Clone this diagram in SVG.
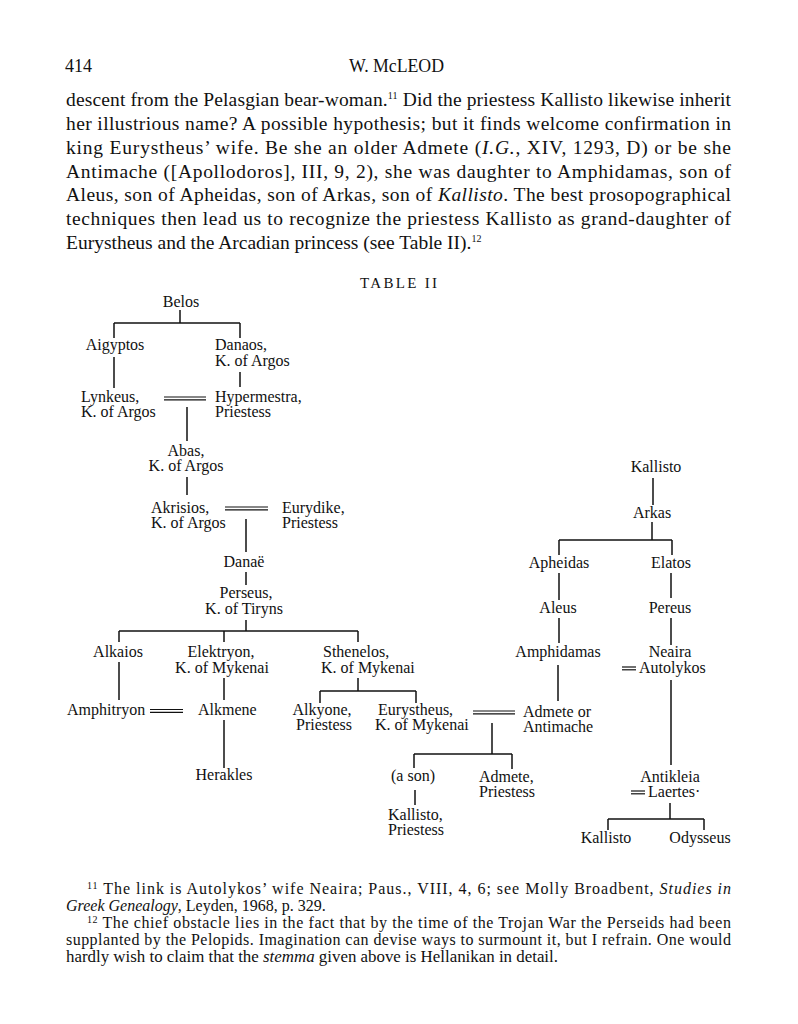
<svg xmlns="http://www.w3.org/2000/svg" width="798" height="1024" viewBox="0 0 798 1024">
<style>
.b{font-family:"Liberation Serif","Times New Roman",serif;font-size:19.5px;fill:#111}
.h{font-family:"Liberation Serif","Times New Roman",serif;font-size:18px;fill:#111}
.f{font-family:"Liberation Serif","Times New Roman",serif;font-size:16px;fill:#111}
.t{font-family:"Liberation Serif","Times New Roman",serif;font-size:16px;fill:#111}
.m{text-anchor:middle}
.i{font-style:italic}
.sup{font-size:10px}
.ln line{stroke:#111;stroke-width:1.5;fill:none}
.eq line{stroke:#111;stroke-width:1.2}
</style>
<rect width="798" height="1024" fill="#fff"/>
<g id="header">
<text class="h" x="65" y="72">414</text>
<text class="h" x="349" y="72" textLength="95" lengthAdjust="spacingAndGlyphs">W. McLEOD</text>
</g>
<g id="body">
<text class="b" x="66" y="106" textLength="665" lengthAdjust="spacing">descent from the Pelasgian bear-woman.<tspan class="sup" dy="-7">11</tspan><tspan dy="7"> Did the priestess Kallisto likewise inherit</tspan></text>
<text class="b" x="66" y="130" textLength="665" lengthAdjust="spacing">her illustrious name? A possible hypothesis; but it finds welcome confirmation in</text>
<text class="b" x="66" y="154" textLength="665" lengthAdjust="spacing">king Eurystheus’ wife. Be she an older Admete (<tspan class="i">I.G.</tspan>, XIV, 1293, D) or be she</text>
<text class="b" x="66" y="178" textLength="665" lengthAdjust="spacing">Antimache ([Apollodoros], III, 9, 2), she was daughter to Amphidamas, son of</text>
<text class="b" x="66" y="201" textLength="665" lengthAdjust="spacing">Aleus, son of Apheidas, son of Arkas, son of <tspan class="i">Kallisto</tspan>. The best prosopographical</text>
<text class="b" x="66" y="225" textLength="665" lengthAdjust="spacing">techniques then lead us to recognize the priestess Kallisto as grand-daughter of</text>
<text class="b" x="66" y="249">Eurystheus and the Arcadian princess (see Table II).<tspan class="sup" dy="-7">12</tspan></text>
</g>
<text id="title" class="f" x="360" y="288" style="font-size:15px" textLength="77" lengthAdjust="spacing">TABLE II</text>

<g id="connectors" class="ln">
<line x1="180" y1="310" x2="180" y2="323"/>
<line x1="114" y1="323" x2="240" y2="323"/>
<line x1="114" y1="323" x2="114" y2="338"/>
<line x1="240" y1="323" x2="240" y2="338"/>
<line x1="114" y1="357" x2="114" y2="388"/>
<line x1="240" y1="372" x2="240" y2="387"/>
<line x1="187" y1="407" x2="187" y2="441"/>
<line x1="187" y1="477" x2="187" y2="495"/>
<line x1="246" y1="519" x2="246" y2="552"/>
<line x1="246" y1="572" x2="246" y2="585"/>
<line x1="246" y1="620" x2="246" y2="631"/>
<line x1="119" y1="631" x2="358" y2="631"/>
<line x1="119" y1="631" x2="119" y2="642"/>
<line x1="224" y1="631" x2="224" y2="642"/>
<line x1="358" y1="631" x2="358" y2="642"/>
<line x1="119" y1="662" x2="119" y2="700"/>
<line x1="224" y1="678" x2="224" y2="700"/>
<line x1="358" y1="678" x2="358" y2="691"/>
<line x1="320" y1="691" x2="416" y2="691"/>
<line x1="320" y1="691" x2="320" y2="703"/>
<line x1="416" y1="691" x2="416" y2="703"/>
<line x1="224" y1="720" x2="224" y2="768"/>
<line x1="492" y1="723" x2="492" y2="754"/>
<line x1="414" y1="754" x2="512" y2="754"/>
<line x1="414" y1="754" x2="414" y2="768"/>
<line x1="512" y1="754" x2="512" y2="769"/>
<line x1="415" y1="790" x2="415" y2="805"/>
<line x1="558" y1="665" x2="558" y2="701"/>
<line x1="653" y1="478" x2="653" y2="505"/>
<line x1="652" y1="522" x2="652" y2="540"/>
<line x1="559" y1="540" x2="672" y2="540"/>
<line x1="559" y1="540" x2="559" y2="555"/>
<line x1="672" y1="540" x2="672" y2="555"/>
<line x1="559" y1="573" x2="559" y2="600"/>
<line x1="671" y1="573" x2="671" y2="598"/>
<line x1="559" y1="618" x2="559" y2="643"/>
<line x1="671" y1="618" x2="671" y2="645"/>
<line x1="671" y1="680" x2="671" y2="765"/>
<line x1="670" y1="803" x2="670" y2="819"/>
<line x1="608" y1="819" x2="704" y2="819"/>
<line x1="608" y1="819" x2="608" y2="830"/>
<line x1="704" y1="819" x2="704" y2="830"/>
<g class="eq">
<line x1="164" y1="397" x2="206" y2="397"/><line x1="164" y1="399.8" x2="206" y2="399.8"/>
<line x1="225" y1="507" x2="268" y2="507"/><line x1="225" y1="509.8" x2="268" y2="509.8"/>
<line x1="150" y1="709.5" x2="183" y2="709.5"/><line x1="150" y1="712.3" x2="183" y2="712.3"/>
<line x1="473" y1="711" x2="515" y2="711"/><line x1="473" y1="713.8" x2="515" y2="713.8"/>
<line x1="622" y1="667" x2="636" y2="667"/><line x1="622" y1="669.8" x2="636" y2="669.8"/>
<line x1="631" y1="791" x2="645" y2="791"/><line x1="631" y1="793.8" x2="645" y2="793.8"/>
</g>
</g>

<g id="belos"><text class="t m" x="181" y="307">Belos</text></g>
<g id="aigyptos"><text class="t m" x="115" y="350">Aigyptos</text></g>
<g id="danaos"><text class="t" x="215" y="350">Danaos,</text><text class="t" x="215" y="366">K. of Argos</text></g>
<g id="lynkeus"><text class="t" x="81" y="402">Lynkeus,</text><text class="t" x="81" y="417">K. of Argos</text></g>
<g id="hypermestra"><text class="t" x="215" y="402">Hypermestra,</text><text class="t" x="215" y="417">Priestess</text></g>
<g id="abas"><text class="t m" x="186" y="456">Abas,</text><text class="t m" x="186" y="471">K. of Argos</text></g>
<g id="akrisios"><text class="t" x="151" y="513">Akrisios,</text><text class="t" x="151" y="528">K. of Argos</text></g>
<g id="eurydike"><text class="t" x="282" y="513">Eurydike,</text><text class="t" x="282" y="528">Priestess</text></g>
<g id="danae"><text class="t m" x="244" y="567">Danaë</text></g>
<g id="perseus"><text class="t m" x="246" y="598">Perseus,</text><text class="t m" x="244" y="614">K. of Tiryns</text></g>
<g id="alkaios"><text class="t m" x="118" y="657">Alkaios</text></g>
<g id="elektryon"><text class="t m" x="221" y="657">Elektryon,</text><text class="t m" x="222" y="673">K. of Mykenai</text></g>
<g id="sthenelos"><text class="t" x="323" y="657">Sthenelos,</text><text class="t" x="321" y="673">K. of Mykenai</text></g>
<g id="amphitryon"><text class="t" x="67" y="715">Amphitryon</text></g>
<g id="alkmene"><text class="t" x="198" y="715">Alkmene</text></g>
<g id="herakles"><text class="t m" x="224" y="780">Herakles</text></g>
<g id="alkyone"><text class="t m" x="322" y="715">Alkyone,</text><text class="t m" x="324" y="730">Priestess</text></g>
<g id="eurystheus"><text class="t" x="378" y="715">Eurystheus,</text><text class="t" x="375" y="730">K. of Mykenai</text></g>
<g id="admete-antimache"><text class="t" x="523" y="717">Admete or</text><text class="t" x="523" y="732">Antimache</text></g>
<g id="ason"><text class="t m" x="413" y="781">(a son)</text></g>
<g id="kallisto-priestess"><text class="t" x="388" y="820">Kallisto,</text><text class="t" x="388" y="835">Priestess</text></g>
<g id="admete-priestess"><text class="t" x="479" y="782">Admete,</text><text class="t" x="479" y="797">Priestess</text></g>
<g id="kallisto"><text class="t m" x="656" y="472">Kallisto</text></g>
<g id="arkas"><text class="t m" x="652" y="518">Arkas</text></g>
<g id="apheidas"><text class="t m" x="559" y="568">Apheidas</text></g>
<g id="elatos"><text class="t m" x="671" y="568">Elatos</text></g>
<g id="aleus"><text class="t m" x="558" y="613">Aleus</text></g>
<g id="pereus"><text class="t m" x="670" y="613">Pereus</text></g>
<g id="amphidamas"><text class="t m" x="558" y="657">Amphidamas</text></g>
<g id="neaira"><text class="t m" x="670" y="657">Neaira</text><text class="t" x="639" y="673">Autolykos</text></g>
<g id="antikleia"><text class="t m" x="670" y="782">Antikleia</text><text class="t" x="648" y="797">Laertes·</text></g>
<g id="kallisto2"><text class="t m" x="606" y="843">Kallisto</text></g>
<g id="odysseus"><text class="t m" x="700" y="843">Odysseus</text></g>

<g id="footnotes">
<text class="f" x="87" y="894" textLength="644" lengthAdjust="spacing"><tspan class="sup" dy="-5">11</tspan><tspan dy="5"> The link is Autolykos’ wife Neaira; Paus., VIII, 4, 6; see Molly Broadbent, </tspan><tspan class="i">Studies in</tspan></text>
<text class="f" x="66" y="911"><tspan class="i">Greek Genealogy</tspan>, Leyden, 1968, p. 329.</text>
<text class="f" x="87" y="928" textLength="644" lengthAdjust="spacing"><tspan class="sup" dy="-5">12</tspan><tspan dy="5"> The chief obstacle lies in the fact that by the time of the Trojan War the Perseids had been</tspan></text>
<text class="f" x="66" y="945" textLength="665" lengthAdjust="spacing">supplanted by the Pelopids. Imagination can devise ways to surmount it, but I refrain. One would</text>
<text class="f" x="66" y="962" textLength="492" lengthAdjust="spacingAndGlyphs">hardly wish to claim that the <tspan class="i">stemma</tspan> given above is Hellanikan in detail.</text>
</g>
</svg>
